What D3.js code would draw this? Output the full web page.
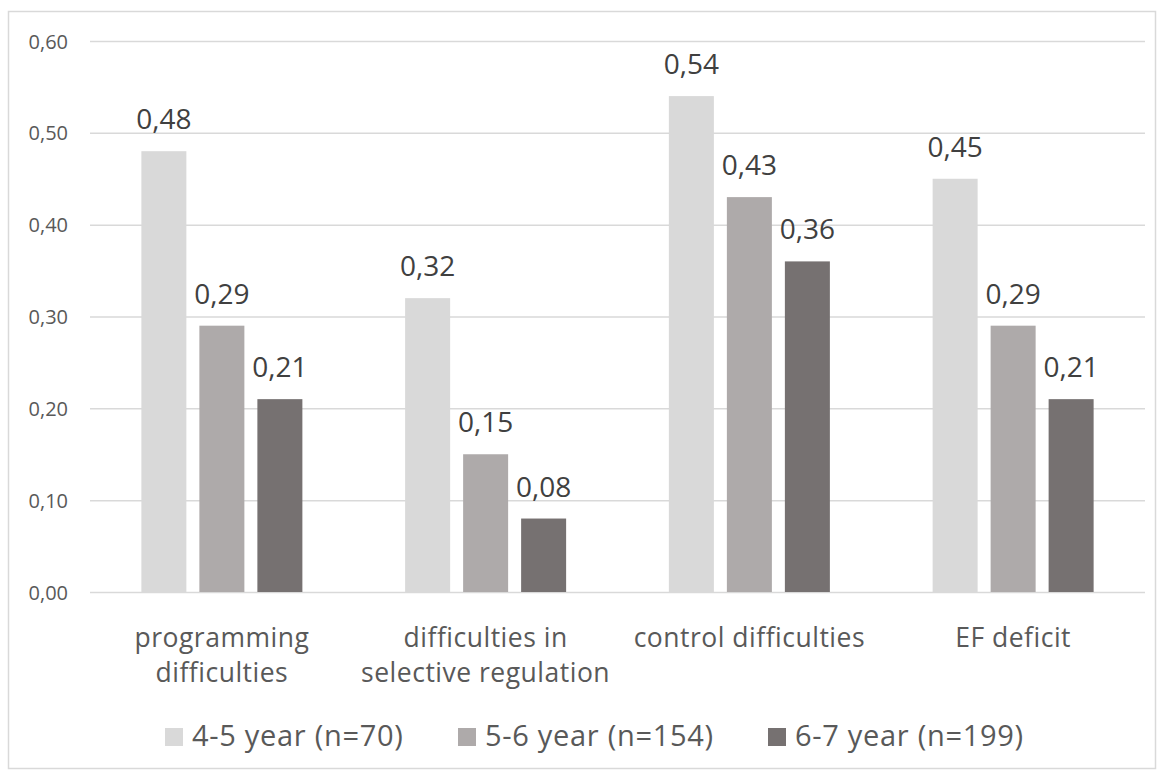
<!DOCTYPE html>
<html><head><meta charset="utf-8">
<script src="https://cdn.jsdelivr.net/npm/d3@7"></script>
<style>body{margin:0;background:#fff}</style>
</head><body>
<svg id="c" width="1164" height="776"></svg>
<script>
const categories = [["programming","difficulties"],["difficulties in","selective regulation"],["control difficulties"],["EF deficit"]];
const seriesNames = ["4-5 year (n=70)","5-6 year (n=154)","6-7 year (n=199)"];
const s1 = [0.48,0.32,0.54,0.45];
const s2 = [0.29,0.15,0.43,0.29];
const s3 = [0.21,0.08,0.36,0.21];
const yTicks = [0,0.1,0.2,0.3,0.4,0.5,0.6];
const colors = ["#d9d9d9","#aeaaaa","#767171"];
const series = [s1,s2,s3];

(function(){
const svg = d3.select("#c");
const font = "'Open Sans', sans-serif";
svg.append("rect").attr("x",8.5).attr("y",11.5).attr("width",1147).attr("height",757)
  .attr("fill","#fff").attr("stroke","#d9d9d9").attr("stroke-width",1.5);

const pLeft=90,pRight=1145,pTop=41,pBottom=592;
const y = d3.scaleLinear().domain([0,0.6]).range([pBottom,pTop]);
const x0 = d3.scaleBand().domain(d3.range(categories.length)).range([pLeft,pRight]).paddingInner(0).paddingOuter(0);
const groupW = 161;
const x1 = d3.scaleBand().domain(d3.range(3))
  .range([x0.bandwidth()/2-groupW/2, x0.bandwidth()/2+groupW/2]).paddingInner(13/58).paddingOuter(0);

const yAxis = d3.axisLeft(y).tickValues(yTicks).tickSize(-(pRight-pLeft)).tickFormat(d=>d3.format(".2f")(d).replace(".",","));
const ga = svg.append("g").attr("transform",`translate(${pLeft},0)`).call(yAxis);
ga.select(".domain").remove();
ga.selectAll(".tick line").attr("stroke","#d9d9d9").attr("stroke-width",1.5);
ga.selectAll(".tick text").attr("x",-22).attr("dy","0.35em").attr("fill","#595959")
  .style("font-family",font).style("font-size","20px");

series.forEach((s,si)=>{
  const g = svg.append("g");
  g.selectAll("rect").data(s).join("rect")
    .attr("x",(d,i)=>x0(i)+x1(si)).attr("width",x1.bandwidth())
    .attr("y",d=>y(d)).attr("height",d=>pBottom-y(d)).attr("fill",colors[si]);
  g.selectAll("text").data(s).join("text")
    .attr("x",(d,i)=>x0(i)+x1(si)+x1.bandwidth()/2).attr("y",d=>y(d)-22)
    .attr("text-anchor","middle").attr("fill","#404040")
    .style("font-family",font).style("font-size","28px")
    .text(d=>d3.format(".2f")(d).replace(".",","));
});

const cl = svg.append("g");
categories.forEach((lines,i)=>{
  const t = cl.append("text").attr("text-anchor","middle").attr("fill","#595959")
    .style("font-family",font).style("font-size","26.5px").style("letter-spacing","0.5px");
  lines.forEach((ln,j)=>{
    t.append("tspan").attr("x",x0(i)+x0.bandwidth()/2).attr("y",647+j*35).text(ln);
  });
});

const legX = [165,458,768];
const lg = svg.append("g");
seriesNames.forEach((n,i)=>{
  lg.append("rect").attr("x",legX[i]).attr("y",728).attr("width",18).attr("height",18).attr("fill",colors[i]);
  lg.append("text").attr("x",legX[i]+27).attr("y",746).attr("fill","#595959")
    .style("font-family",font).style("font-size","29px").style("letter-spacing","0.7px").text(n);
});
})();
</script>
</body></html>
